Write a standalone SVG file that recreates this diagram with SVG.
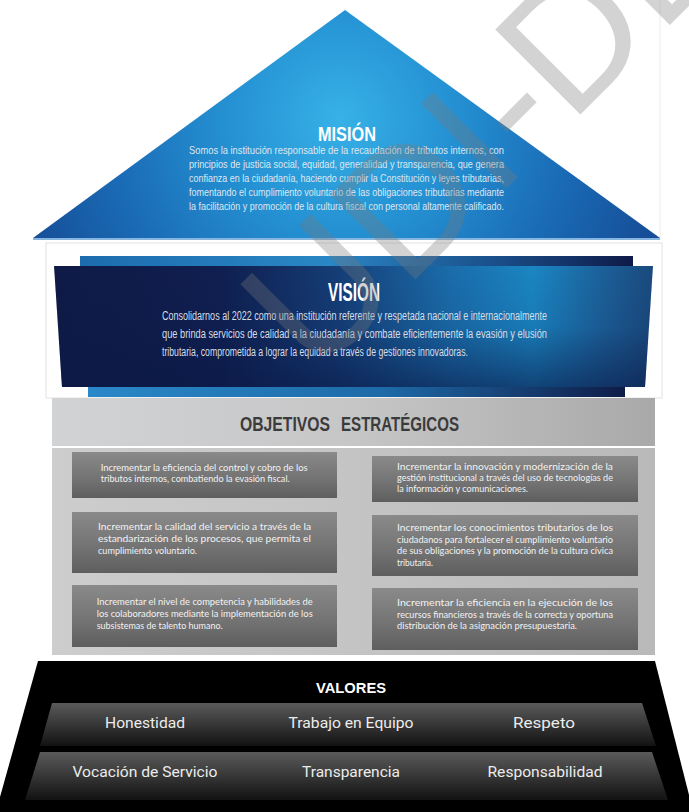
<svg xmlns="http://www.w3.org/2000/svg" width="689" height="812" viewBox="0 0 689 812">
  <defs>
    <radialGradient id="gMision" gradientUnits="userSpaceOnUse" cx="340" cy="118" r="330">
      <stop offset="0" stop-color="#37b1e7"/>
      <stop offset="0.35" stop-color="#2490d2"/>
      <stop offset="0.7" stop-color="#1a6ab5"/>
      <stop offset="1" stop-color="#164e97"/>
    </radialGradient>
    <linearGradient id="gVisTop" gradientUnits="userSpaceOnUse" x1="80" y1="0" x2="633" y2="0">
      <stop offset="0" stop-color="#1c6cae"/>
      <stop offset="0.45" stop-color="#2a86c4"/>
      <stop offset="0.75" stop-color="#1a4f8a"/>
      <stop offset="1" stop-color="#0f1a48"/>
    </linearGradient>
    <linearGradient id="gVisBot" gradientUnits="userSpaceOnUse" x1="88" y1="0" x2="625" y2="0">
      <stop offset="0" stop-color="#2a88c8"/>
      <stop offset="0.55" stop-color="#1e6aa8"/>
      <stop offset="1" stop-color="#0f1c48"/>
    </linearGradient>
    <linearGradient id="gVisMain" gradientUnits="userSpaceOnUse" x1="54" y1="0" x2="653" y2="0">
      <stop offset="0" stop-color="#0f1a46"/>
      <stop offset="0.28" stop-color="#0f1f50"/>
      <stop offset="0.47" stop-color="#153d76"/>
      <stop offset="0.66" stop-color="#1a6caa"/>
      <stop offset="0.8" stop-color="#1a86c3"/>
      <stop offset="0.92" stop-color="#1c5f98"/>
      <stop offset="1" stop-color="#1a4a7e"/>
    </linearGradient>
    <linearGradient id="gVisShade" x1="0" y1="0" x2="0" y2="1">
      <stop offset="0" stop-color="#0a1845" stop-opacity="0"/>
      <stop offset="0.5" stop-color="#0a1845" stop-opacity="0.1"/>
      <stop offset="1" stop-color="#0a1845" stop-opacity="0.6"/>
    </linearGradient>
    <linearGradient id="gHeader" gradientUnits="userSpaceOnUse" x1="52" y1="0" x2="655" y2="0">
      <stop offset="0" stop-color="#d2d3d5"/>
      <stop offset="0.5" stop-color="#c6c6c7"/>
      <stop offset="1" stop-color="#a9a9aa"/>
    </linearGradient>
    <linearGradient id="gPanel" gradientUnits="userSpaceOnUse" x1="52" y1="0" x2="655" y2="0">
      <stop offset="0" stop-color="#cdcdce"/>
      <stop offset="0.5" stop-color="#c4c4c5"/>
      <stop offset="1" stop-color="#b9b9ba"/>
    </linearGradient>
    <linearGradient id="gBox" x1="0" y1="0" x2="0" y2="1">
      <stop offset="0" stop-color="#8a8a8a"/>
      <stop offset="0.6" stop-color="#727272"/>
      <stop offset="1" stop-color="#5e5e5e"/>
    </linearGradient>
    <linearGradient id="gBand" x1="0" y1="0" x2="0" y2="1">
      <stop offset="0" stop-color="#5a5a5a"/>
      <stop offset="0.45" stop-color="#3a3a3a"/>
      <stop offset="1" stop-color="#121212"/>
    </linearGradient>
    <style>
      .title { font-family: "Liberation Sans", Arial, sans-serif; font-weight: bold; fill: #ffffff; }
      .body { font-family: "Liberation Sans", Arial, sans-serif; fill: #dfe7ef; }
      .mis { font-size: 11px; }
      .vis { font-size: 12.5px; fill: #d6dde6; }
      .hdr { font-family: "Liberation Sans", Arial, sans-serif; font-weight: bold; font-size: 20px; fill: #3b3b3b; }
      .obj { font-family: Lato, "Open Sans", sans-serif; font-size: 8.5px; fill: #f2f2f2; }
      .box { fill: url(#gBox); }
      .val { font-family: Roboto, "Liberation Sans", sans-serif; font-size: 15.5px; fill: #ececec; text-anchor: middle; }
      .band { fill: url(#gBand); }
      .wm { font-family: "Liberation Sans", Arial, sans-serif; font-size: 175px; fill: #7a7a7a; opacity: 0.32; }
    </style>
  </defs>

  <rect x="0" y="0" width="689" height="812" fill="#ffffff"/>

  <!-- Misión -->
  <g id="mision">
    <line x1="660" y1="0" x2="660" y2="240" stroke="#ececec" stroke-width="1"/>
    <polygon points="345,10 33,238 660,238" fill="url(#gMision)"/>
    <line x1="33" y1="239" x2="660" y2="239" stroke="#86b6e0" stroke-width="2"/>
    <text class="title" x="347" y="141" font-size="19.5" text-anchor="middle" textLength="58" lengthAdjust="spacingAndGlyphs">MISIÓN</text>
    <text class="body mis" x="189" y="154" textLength="315" lengthAdjust="spacingAndGlyphs">Somos la institución responsable de la recaudación de tributos internos, con</text>
    <text class="body mis" x="189" y="168" textLength="315" lengthAdjust="spacingAndGlyphs">principios de justicia social, equidad, generalidad y transparencia, que genera</text>
    <text class="body mis" x="189" y="182" textLength="315" lengthAdjust="spacingAndGlyphs">confianza en la ciudadanía, haciendo cumplir la Constitución y leyes tributarias,</text>
    <text class="body mis" x="189" y="196" textLength="315" lengthAdjust="spacingAndGlyphs">fomentando el cumplimiento voluntario de las obligaciones tributarias mediante</text>
    <text class="body mis" x="189" y="210" textLength="315" lengthAdjust="spacingAndGlyphs">la facilitación y promoción de la cultura fiscal con personal altamente calificado.</text>
  </g>

  <!-- Visión -->
  <g id="vision">
    <rect x="46" y="243" width="616" height="155" fill="#ffffff" stroke="#e2e2e2" stroke-width="1"/>
    <rect x="80" y="256" width="553" height="11" fill="url(#gVisTop)"/>
    <rect x="88" y="385" width="537" height="12" fill="url(#gVisBot)"/>
    <polygon points="54,266 653,266 645,387 62,387" fill="url(#gVisMain)"/>
    <polygon points="54,266 653,266 645,387 62,387" fill="url(#gVisShade)"/>
    <text class="title" x="354" y="301" font-size="25" text-anchor="middle" textLength="52" lengthAdjust="spacingAndGlyphs">VISIÓN</text>
    <text class="body vis" x="162" y="320" textLength="385" lengthAdjust="spacingAndGlyphs">Consolidarnos al 2022 como una institución referente y respetada nacional e internacionalmente</text>
    <text class="body vis" x="162" y="338" textLength="385" lengthAdjust="spacingAndGlyphs">que brinda servicios de calidad a la ciudadanía y combate eficientemente la evasión y elusión</text>
    <text class="body vis" x="162" y="356" textLength="306" lengthAdjust="spacingAndGlyphs">tributaria, comprometida a lograr la equidad a través de gestiones innovadoras.</text>
  </g>

  <!-- Objetivos estratégicos header -->
  <g id="objetivos-header">
    <rect x="52" y="398" width="603" height="48" fill="url(#gHeader)"/>
    <text class="hdr" x="240" y="431" textLength="90" lengthAdjust="spacingAndGlyphs">OBJETIVOS</text>
    <text class="hdr" x="341" y="431" textLength="118" lengthAdjust="spacingAndGlyphs">ESTRATÉGICOS</text>
  </g>

  <!-- Objetivos panel -->
  <g id="objetivos">
    <rect x="52" y="448" width="603" height="207" fill="url(#gPanel)"/>

    <g id="obj-1">
      <rect class="box" x="72" y="452" width="265" height="46"/>
      <text class="obj" x="100.7" y="471" textLength="207" lengthAdjust="spacingAndGlyphs">Incrementar la eficiencia del control y cobro de los</text>
      <text class="obj" x="100.7" y="482" textLength="189" lengthAdjust="spacingAndGlyphs">tributos internos, combatiendo la evasión fiscal.</text>
    </g>
    <g id="obj-2">
      <rect class="box" x="72" y="512" width="265" height="61"/>
      <text class="obj" x="98" y="530" textLength="213" lengthAdjust="spacingAndGlyphs">Incrementar la calidad del servicio a través de la</text>
      <text class="obj" x="98" y="542" textLength="213" lengthAdjust="spacingAndGlyphs">estandarización de los procesos, que permita el</text>
      <text class="obj" x="98" y="554" textLength="99" lengthAdjust="spacingAndGlyphs">cumplimiento voluntario.</text>
    </g>
    <g id="obj-3">
      <rect class="box" x="72" y="585" width="265" height="62"/>
      <text class="obj" x="96.7" y="605" textLength="216" lengthAdjust="spacingAndGlyphs">Incrementar el nivel de competencia y habilidades de</text>
      <text class="obj" x="96.7" y="617" textLength="216" lengthAdjust="spacingAndGlyphs">los colaboradores mediante la implementación de los</text>
      <text class="obj" x="96.7" y="629" textLength="126" lengthAdjust="spacingAndGlyphs">subsistemas de talento humano.</text>
    </g>
    <g id="obj-4">
      <rect class="box" x="372" y="456" width="266" height="46"/>
      <text class="obj" x="397" y="470" textLength="216" lengthAdjust="spacingAndGlyphs">Incrementar la innovación y modernización de la</text>
      <text class="obj" x="397" y="481" textLength="216" lengthAdjust="spacingAndGlyphs">gestión institucional a través del uso de tecnologías de</text>
      <text class="obj" x="397" y="492" textLength="131" lengthAdjust="spacingAndGlyphs">la información y comunicaciones.</text>
    </g>
    <g id="obj-5">
      <rect class="box" x="372" y="515" width="266" height="61"/>
      <text class="obj" x="397" y="531" textLength="216" lengthAdjust="spacingAndGlyphs">Incrementar los conocimientos tributarios de los</text>
      <text class="obj" x="397" y="542.5" textLength="216" lengthAdjust="spacingAndGlyphs">ciudadanos para fortalecer el cumplimiento voluntario</text>
      <text class="obj" x="397" y="554" textLength="216" lengthAdjust="spacingAndGlyphs">de sus obligaciones y la promoción de la cultura cívica</text>
      <text class="obj" x="397" y="565.5" textLength="36" lengthAdjust="spacingAndGlyphs">tributaria.</text>
    </g>
    <g id="obj-6">
      <rect class="box" x="372" y="588" width="266" height="62"/>
      <text class="obj" x="397" y="606" textLength="216" lengthAdjust="spacingAndGlyphs">Incrementar la eficiencia en la ejecución de los</text>
      <text class="obj" x="397" y="617.5" textLength="216" lengthAdjust="spacingAndGlyphs">recursos financieros a través de la correcta y oportuna</text>
      <text class="obj" x="397" y="629" textLength="180" lengthAdjust="spacingAndGlyphs">distribución de la asignación presupuestaria.</text>
    </g>
  </g>

  <!-- Valores -->
  <g id="valores">
    <polygon points="38,661 655,661 689,795 689,812 0,812 0,797" fill="#000000"/>
    <text class="title" x="351" y="693" font-size="15.5" text-anchor="middle" textLength="70" lengthAdjust="spacingAndGlyphs">VALORES</text>
    <polygon class="band" points="52,703 642,703 656,746 40,746"/>
    <polygon class="band" points="40,752 652,752 668,800 25,800"/>
    <text class="val" x="145" y="728" textLength="80" lengthAdjust="spacingAndGlyphs">Honestidad</text>
    <text class="val" x="351" y="728" textLength="125" lengthAdjust="spacingAndGlyphs">Trabajo en Equipo</text>
    <text class="val" x="544" y="728" textLength="62" lengthAdjust="spacingAndGlyphs">Respeto</text>
    <text class="val" x="145" y="777" textLength="145" lengthAdjust="spacingAndGlyphs">Vocación de Servicio</text>
    <text class="val" x="351" y="777" textLength="98" lengthAdjust="spacingAndGlyphs">Transparencia</text>
    <text class="val" x="545" y="777" textLength="115" lengthAdjust="spacingAndGlyphs">Responsabilidad</text>
  </g>

  <!-- Watermark -->
  <g id="watermark">
    <text class="wm" x="316" y="379" transform="rotate(-45 316 379)">UDI-DE</text>
  </g>
</svg>
